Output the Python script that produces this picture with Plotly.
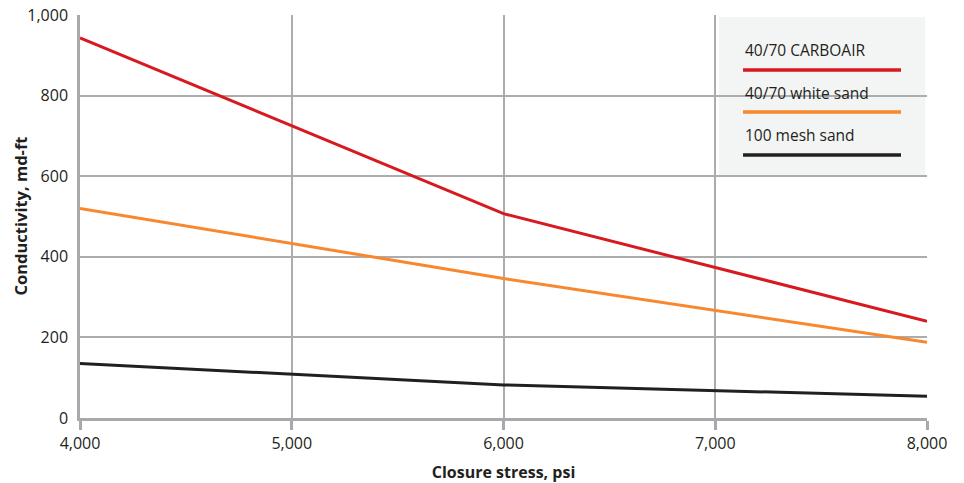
import plotly.graph_objects as go

stress = [4000, 6000, 8000]
carboair = [943, 507, 240]
white_sand = [520, 346, 188]
mesh_sand = [135, 82, 54]

names = ["40/70 CARBOAIR", "40/70 white sand", "100 mesh sand"]
colors = ["#d71920", "#f7882f", "#231f20"]
series = [carboair, white_sand, mesh_sand]

x_ticks = [4000, 5000, 6000, 7000, 8000]
x_labels = ["4,000", "5,000", "6,000", "7,000", "8,000"]
y_ticks = [0, 200, 400, 600, 800, 1000]
y_labels = ["0", "200", "400", "600", "800", "1,000"]

FONT = "Open Sans"
fig = go.Figure()
for name, vals, col in zip(names, series, colors):
    fig.add_trace(go.Scatter(x=stress, y=vals, mode="lines", name=name,
                             line=dict(color=col, width=3), showlegend=False))

# legend box
fig.add_shape(type="rect", xref="paper", yref="paper", x0=0.7544, x1=0.998, y0=0.598, y1=0.995,
              fillcolor="#f3f4f4", line=dict(width=0), layer="between")
leg_y_text = [0.913, 0.806, 0.702]
leg_y_line = [0.8635, 0.759, 0.6526]
for name, col, yt, yl in zip(names, colors, leg_y_text, leg_y_line):
    fig.add_annotation(text=name, xref="paper", yref="paper", x=0.7828, y=yt,
                       xanchor="left", yanchor="middle", showarrow=False,
                       font=dict(family=FONT, size=15.5, color="#231f20"))
    fig.add_shape(type="line", xref="paper", yref="paper", x0=0.7828, x1=0.9693, y0=yl, y1=yl,
                  line=dict(color=col, width=3.5), layer="above")

# y-axis title
fig.add_annotation(text="<b>Conductivity, md-ft</b>", xref="paper", yref="paper",
                   x=-0.0708, y=0.5, xanchor="center", yanchor="middle", textangle=-90,
                   showarrow=False, font=dict(family=FONT, size=16.5, color="#231f20"))

fig.update_layout(
    width=964, height=483,
    margin=dict(l=80, r=37, t=15, b=65),
    paper_bgcolor="white", plot_bgcolor="white",
    font=dict(family=FONT, size=16, color="#231f20"),
)
fig.update_xaxes(range=[4000, 8000], tickvals=x_ticks, ticktext=x_labels,
                 showgrid=True, gridcolor="#aaacaf", gridwidth=1.5,
                 showline=True, linecolor="#a7a9ac", linewidth=2.5, mirror=False,
                 ticks="outside", ticklen=9, tickwidth=2.5, tickcolor="#a7a9ac",
                 zeroline=False, automargin=False,
                 title=dict(text="<b>Closure stress, psi</b>", font=dict(size=16), standoff=14))
fig.update_yaxes(range=[0, 1000], tickvals=y_ticks, ticktext=y_labels,
                 showgrid=True, gridcolor="#aaacaf", gridwidth=1.5,
                 showline=True, linecolor="#a7a9ac", linewidth=2.5,
                 ticks="", ticklabelstandoff=6, zeroline=False, automargin=False)

fig.write_html("out.html", config={"displayModeBar": False},
               post_script="document.body.style.margin='0px';document.body.style.overflow='hidden';")
